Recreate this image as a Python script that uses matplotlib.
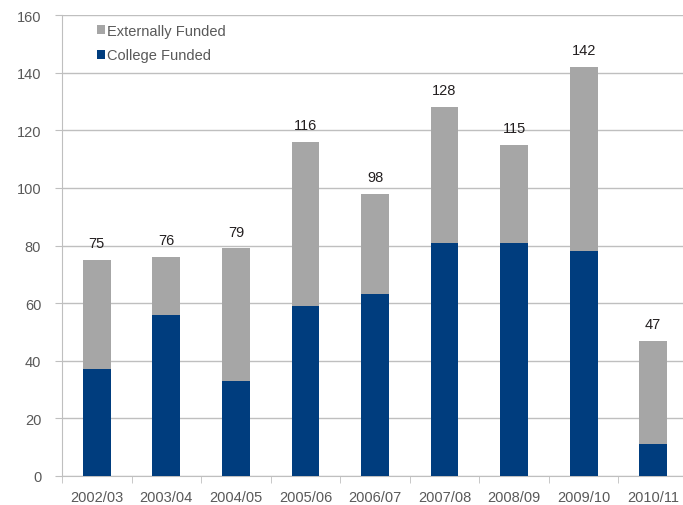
import matplotlib
matplotlib.use('Agg')
import matplotlib.pyplot as plt
from matplotlib.patches import Patch
import numpy as np

plt.rcParams['font.family'] = ['Liberation Sans', 'DejaVu Sans']

years = ['2002/03', '2003/04', '2004/05', '2005/06', '2006/07',
         '2007/08', '2008/09', '2009/10', '2010/11']
college = [37, 56, 33, 59, 63, 81, 81, 78, 11]
totals = [75, 76, 79, 116, 98, 128, 115, 142, 47]
external = [t - c for t, c in zip(totals, college)]

blue = '#003D7E'
grey = '#A6A6A6'
text_grey = '#595959'
line_grey = '#BFBFBF'

fig = plt.figure(figsize=(6.83, 5.06), dpi=100)
ax = fig.add_axes([62 / 683, 29 / 506, 626 / 683, 461 / 506])

x = np.arange(len(years))
ax.bar(x, college, width=0.4, color=blue, zorder=3)
ax.bar(x, external, width=0.4, bottom=college, color=grey, zorder=3)

# total labels above each stack
for xi, t in zip(x, totals):
    ax.annotate(str(t), (xi, t), xytext=(0, 7), textcoords='offset points',
                ha='center', va='bottom', fontsize=10.5, color='#231F20')

ax.set_xlim(-0.5, len(years) - 0.5)
ax.set_ylim(0, 160)
ax.set_yticks(range(0, 161, 20))
ax.yaxis.grid(True, color=line_grey, linewidth=1, zorder=0)

ax.set_xticks(x)
ax.set_xticklabels(years)
ax.set_xticks(np.arange(-0.5, len(years), 1), minor=True)
ax.tick_params(axis='x', which='major', length=0, pad=10, labelsize=10.5, labelcolor=text_grey)
ax.tick_params(axis='x', which='minor', length=5, color=line_grey, direction='out')
ax.tick_params(axis='y', length=5, color=line_grey, labelsize=10.5, labelcolor=text_grey, pad=10)

for s in ['top', 'right']:
    ax.spines[s].set_visible(False)
for s in ['left', 'bottom']:
    ax.spines[s].set_color(line_grey)

handles = [Patch(facecolor=grey, label='Externally Funded'),
           Patch(facecolor=blue, label='College Funded')]
leg = ax.legend(handles=handles, loc='upper left', bbox_to_anchor=(0.035, 1.01),
                frameon=False, fontsize=10.5, handlelength=0.55, handleheight=0.55,
                handletextpad=0.15, labelspacing=0.75, labelcolor=text_grey)

fig.savefig('out.png', dpi=100)
